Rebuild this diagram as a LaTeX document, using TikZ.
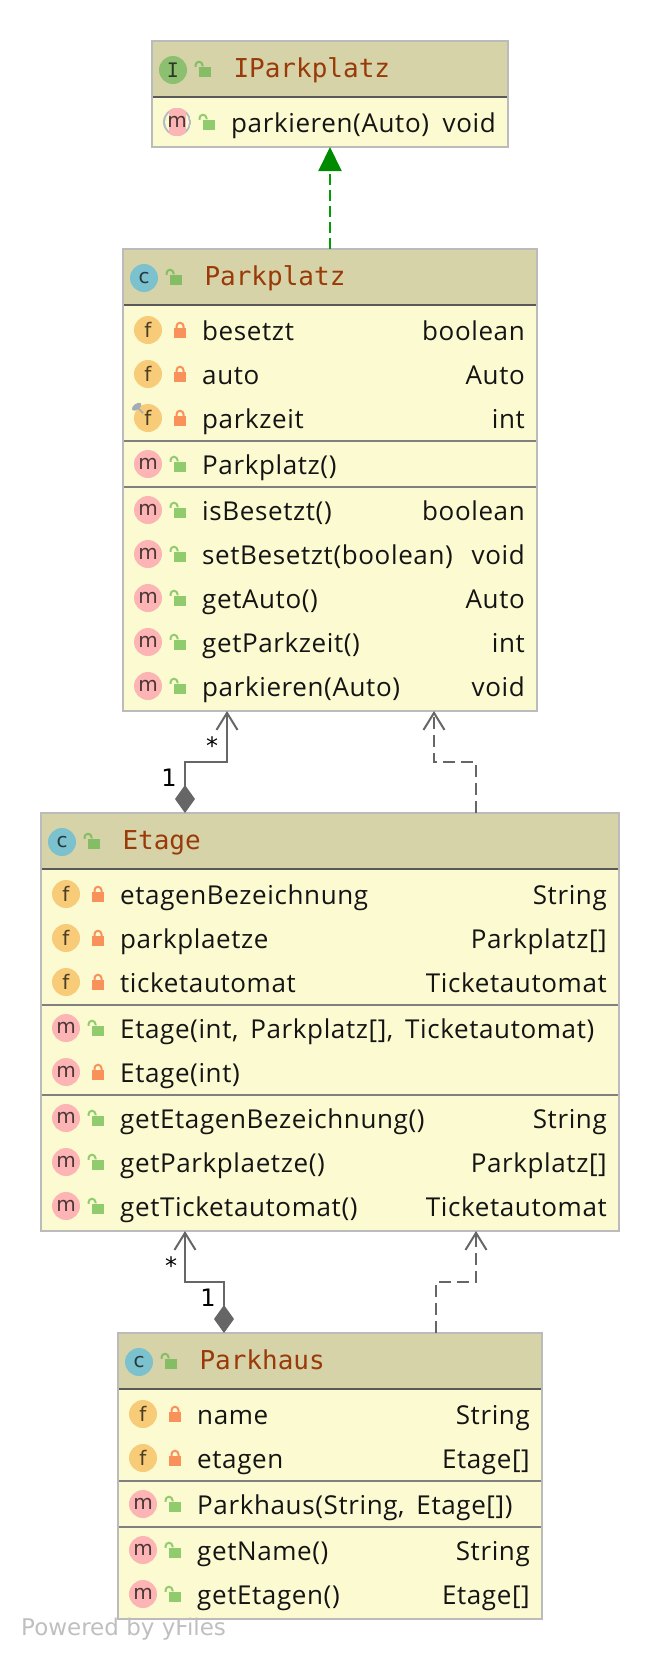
\documentclass[tikz,border=0pt]{standalone}
\usepackage{fontspec}
\setmainfont[LetterSpace = 2.4, WordSpace = 1.6]{Open Sans}
\setmonofont{DejaVu Sans Mono}
\newfontfamily\iconfont{DejaVu Sans}
\usetikzlibrary{shapes, arrows.meta}
\definecolor{bodyfill}{HTML}{FCFAD0}
\definecolor{headfill}{HTML}{D6D3A9}
\definecolor{boxline}{HTML}{BBBBBB}
\definecolor{titletext}{HTML}{993A08}
\definecolor{iconf}{HTML}{F7CB77}
\definecolor{iconm}{HTML}{FDB4B4}
\definecolor{iconc}{HTML}{7BC1CE}
\definecolor{iconi}{HTML}{8DBF70}
\definecolor{lockorange}{HTML}{F9915A}
\definecolor{lockgreen}{HTML}{90CC6E}
\definecolor{lockdark}{HTML}{85BD65}
\definecolor{linkgrey}{HTML}{666666}
\definecolor{linkgreen}{HTML}{008A00}
\definecolor{pingrey}{HTML}{A3ABB5}
\tikzstyle{box} = [rectangle, fill = bodyfill, outer sep = 0, inner sep = 0]
\tikzstyle{icon} = [circle, minimum size = 28, inner sep = 0, outer sep = 0,
  font = \iconfont\fontsize{20}{20}\selectfont, text depth = 0]
\tikzstyle{icon-f} = [icon, fill = iconf, text = black!70!iconf, text height = 15,
  node contents = {f}]
\tikzstyle{icon-m} = [icon, fill = iconm, text = black!70!iconm, text height = 11,
  node contents = {m}]
\tikzstyle{icon-c} = [icon, fill = iconc, text = black!70!iconc, text height = 11,
  node contents = {c}]
\tikzstyle{icon-I} = [icon, fill = iconi, text = black!70!iconi, text height = 14,
  font = \ttfamily\fontsize{20}{20}\selectfont, node contents = {I}]
\tikzstyle{icon-a} = [icon, text = black!70!iconm, text height = 11,
  node contents = {m},
  path picture = {
    \fill [pingrey!80] (path picture bounding box.south west) rectangle
      (path picture bounding box.north east);
    \fill [bodyfill] (path picture bounding box.center) circle (12);
    \fill [iconm] ([xshift = -8.5]path picture bounding box.south) rectangle
      ([xshift = 8.5]path picture bounding box.north);
  }]
\tikzstyle{lock} = [rectangle, minimum width = 12, minimum height = 10.5,
  inner sep = 0, outer sep = 0]
\tikzstyle{title} = [anchor = base west, text = titletext,
  font = \ttfamily\fontsize{26}{30}\selectfont]
\tikzstyle{member} = [font = \fontsize{26}{30}\selectfont, text = black!92,
  inner sep = 0]
\tikzstyle{mult} = [font = \iconfont\fontsize{24}{24}\selectfont, inner sep = 0]
\tikzstyle{compose} = [linkgrey, line width = 2,
  {Diamond[length = 28pt, width = 20pt]}-{Straight Barb[length = 17pt, width = 21pt]}]
\tikzstyle{depend} = [linkgrey, line width = 2, dash pattern = on 12pt off 6pt,
  -{Straight Barb[length = 17pt, width = 21pt]}]
\tikzstyle{realize} = [linkgreen!85!green, line width = 2, dash pattern = on 11pt off 5pt,
  -{Triangle[length = 24pt, width = 23pt, color = linkgreen]}]

\newcommand{\lockclosed}[2]{
  \node [lock, fill = lockorange] (#1) at (#2) {};
  \draw [lockorange, line width = 2] ([xshift = -3.5]#1.north) -- ++(0, -1.5)
    arc (-180:0:3.5) -- ++(0, 1.5);
}
\newcommand{\lockopen}[3][lockgreen]{
  \node [lock, fill = #1] (#2) at (#3) {};
  \draw [#1, line width = 2] ([xshift = -3.5]#2.north west) -- ++(0, -1.5)
    arc (-180:0:3.5) -- ++(0, 1);
}
% id, box, offset below top of box, icon, lock, name, type
\newcommand{\classmember}[7]{
  \node (#1-icon) at ([xshift = 25, yshift = -#3]#2.north west) [icon-#4];
  #5{#1-lock}{[xshift = 57, yshift = -#3 - 3]#2.north west}
  \node [member, anchor = base west] (#1-name)
    at ([xshift = 79, yshift = -#3 - 10]#2.north west) {#6};
  \node [member, anchor = base east] (#1-type)
    at ([xshift = -12, yshift = -#3 - 10]#2.north east) {#7};
}
% box, icon, title
\newcommand{\classhead}[3]{
  \fill [headfill] (#1.north west) rectangle ([yshift = -56]#1.north east);
  \draw [black!65, line width = 2] ([yshift = -56]#1.north west) --
    ([yshift = -56]#1.north east);
  \node (#1-icon) at ([xshift = 21, yshift = -29]#1.north west) [icon-#2];
  \lockopen[lockdark]{#1-lock}{[xshift = 53, yshift = -31]#1.north west}
  \node [title] (#1-title) at ([xshift = 78, yshift = -36]#1.north west) {#3};
}
\newcommand{\classrule}[2]{
  \draw [black!50, line width = 2] ([yshift = -#2]#1.north west) --
    ([yshift = -#2]#1.north east);
}

\begin{document}
\begin{tikzpicture}[x = 1pt, y = -1pt, node distance = 0]
      \useasboundingbox (0, 0) rectangle (660, 1660);
      % boxes
      \node [box, minimum width = 356, minimum height = 106] (box-iparkplatz) at (330, 94) {};
      \node [box, minimum width = 414, minimum height = 462, below of = box-iparkplatz,
        yshift = -386] (box-parkplatz) {};
      \node [box, minimum width = 578, minimum height = 418, below of = box-parkplatz,
        yshift = -542] (box-etage) {};
      \node [box, minimum width = 424, minimum height = 286, below of = box-etage,
        yshift = -454] (box-parkhaus) {};

      % iparkplatz
      \classhead{box-iparkplatz}{I}{IParkplatz}
      \classmember{ipark-m0}{box-iparkplatz}{81}{a}{\lockopen}{parkieren(Auto)}{void}
      % parkplatz
      \classhead{box-parkplatz}{c}{Parkplatz}
      \classmember{park-f0}{box-parkplatz}{81}{f}{\lockclosed}{besetzt}{boolean}
      \classmember{park-f1}{box-parkplatz}{125}{f}{\lockclosed}{auto}{Auto}
      \classmember{park-f2}{box-parkplatz}{169}{f}{\lockclosed}{parkzeit}{int}
      \classrule{box-parkplatz}{192}
      \classmember{park-k0}{box-parkplatz}{215}{m}{\lockopen}{Parkplatz()}{}
      \classrule{box-parkplatz}{238}
      \classmember{park-m0}{box-parkplatz}{261}{m}{\lockopen}{isBesetzt()}{boolean}
      \classmember{park-m1}{box-parkplatz}{305}{m}{\lockopen}{setBesetzt(boolean)}{void}
      \classmember{park-m2}{box-parkplatz}{349}{m}{\lockopen}{getAuto()}{Auto}
      \classmember{park-m3}{box-parkplatz}{393}{m}{\lockopen}{getParkzeit()}{int}
      \classmember{park-m4}{box-parkplatz}{437}{m}{\lockopen}{parkieren(Auto)}{void}
      % pin of parkzeit
      \node [ellipse, fill = pingrey, minimum width = 11, minimum height = 6, inner sep = 0,
        rotate = 35] (pin-parkzeit) at ([xshift = -11.3, yshift = 11.3]park-f2-icon.center) {};
      \draw [pingrey, line width = 1.5] (pin-parkzeit.center) --
        ([xshift = -5, yshift = 5]park-f2-icon.center);
      % etage
      \classhead{box-etage}{c}{Etage}
      \classmember{etage-f0}{box-etage}{81}{f}{\lockclosed}{etagenBezeichnung}{String}
      \classmember{etage-f1}{box-etage}{125}{f}{\lockclosed}{parkplaetze}{Parkplatz[]}
      \classmember{etage-f2}{box-etage}{169}{f}{\lockclosed}{ticketautomat}{Ticketautomat}
      \classrule{box-etage}{192}
      \classmember{etage-k0}{box-etage}{215}{m}{\lockopen}{Etage(int, Parkplatz[], Ticketautomat)}{}
      \classmember{etage-k1}{box-etage}{259}{m}{\lockclosed}{Etage(int)}{}
      \classrule{box-etage}{282}
      \classmember{etage-m0}{box-etage}{305}{m}{\lockopen}{getEtagenBezeichnung()}{String}
      \classmember{etage-m1}{box-etage}{349}{m}{\lockopen}{getParkplaetze()}{Parkplatz[]}
      \classmember{etage-m2}{box-etage}{393}{m}{\lockopen}{getTicketautomat()}{Ticketautomat}
      % parkhaus
      \classhead{box-parkhaus}{c}{Parkhaus}
      \classmember{haus-f0}{box-parkhaus}{81}{f}{\lockclosed}{name}{String}
      \classmember{haus-f1}{box-parkhaus}{125}{f}{\lockclosed}{etagen}{Etage[]}
      \classrule{box-parkhaus}{148}
      \classmember{haus-k0}{box-parkhaus}{171}{m}{\lockopen}{Parkhaus(String, Etage[])}{}
      \classrule{box-parkhaus}{194}
      \classmember{haus-m0}{box-parkhaus}{217}{m}{\lockopen}{getName()}{String}
      \classmember{haus-m1}{box-parkhaus}{261}{m}{\lockopen}{getEtagen()}{Etage[]}

      % outlines
      \draw [boxline, line width = 2] (box-iparkplatz.north west) rectangle (box-iparkplatz.south east);
      \draw [boxline, line width = 2] (box-parkplatz.north west) rectangle (box-parkplatz.south east);
      \draw [boxline, line width = 2] (box-etage.north west) rectangle (box-etage.south east);
      \draw [boxline, line width = 2] (box-parkhaus.north west) rectangle (box-parkhaus.south east);

      \draw [realize] (box-parkplatz.north) -- (box-iparkplatz.south);
      \draw [compose] ([xshift = -145]box-etage.north) -- ++(0, -51)
        -| ([xshift = -103]box-parkplatz.south);
      \draw [depend] ([xshift = 146]box-etage.north) -- ++(0, -51)
        -| ([xshift = 104]box-parkplatz.south);
      \draw [compose] ([xshift = -106]box-parkhaus.north) -- ++(0, -51)
        -| ([xshift = -145]box-etage.south);
      \draw [depend] ([xshift = 106]box-parkhaus.north) -- ++(0, -51)
        -| ([xshift = 146]box-etage.south);

      \node [mult] (mult-many-a) at ([xshift = -118, yshift = -35]box-parkplatz.south) {*};
      \node [mult] (mult-one-a) at ([xshift = -161, yshift = 35]box-etage.north) {1};
      \node [mult] (mult-many-b) at ([xshift = -159, yshift = -35]box-etage.south) {*};
      \node [mult] (mult-one-b) at ([xshift = -122, yshift = 35]box-parkhaus.north) {1};
      \node [anchor = base west, text = black!25, inner sep = 0,
        font = \iconfont\fontsize{23}{24}\selectfont] (powered) at (21, 1635) {Powered by yFiles};
\end{tikzpicture}
\end{document}
